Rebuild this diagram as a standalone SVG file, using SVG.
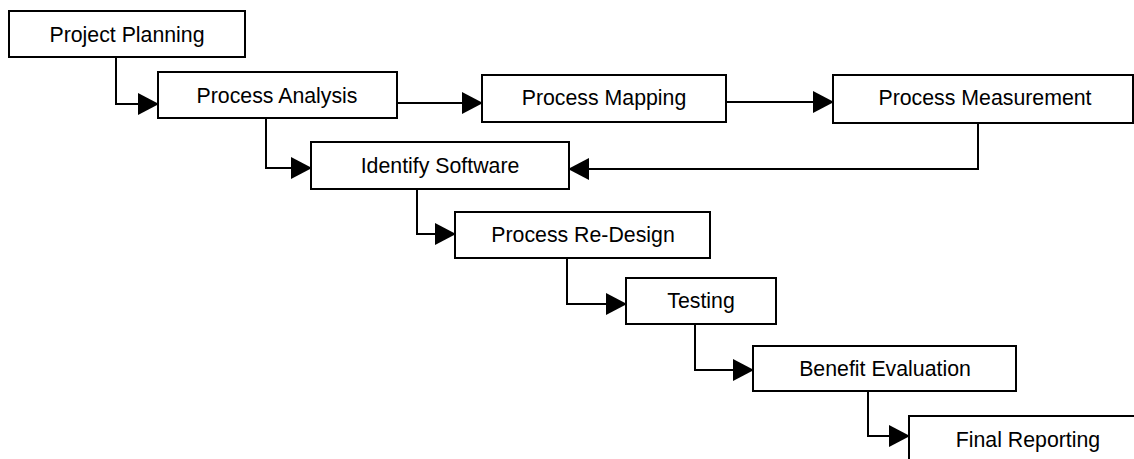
<svg xmlns="http://www.w3.org/2000/svg" width="1134" height="459" viewBox="0 0 1134 459">
<style>
.box{fill:#fff;stroke:#000;stroke-width:2}
.lbl{font-family:"Liberation Sans",Arial,sans-serif;font-size:21.3px;fill:#000;text-anchor:middle}
.con{fill:none;stroke:#000;stroke-width:2}
</style>
<defs>
<marker id="ah" markerUnits="userSpaceOnUse" markerWidth="21" markerHeight="22" refX="20" refY="11" orient="auto">
<path d="M0,0 L21,11 L0,22 Z" fill="#000"/>
</marker>
</defs>
<rect width="1134" height="459" fill="#fff"/>
<g id="connectors">
<path class="con" d="M116,57 V104 H158" marker-end="url(#ah)"/>
<path class="con" d="M397,103 H482" marker-end="url(#ah)"/>
<path class="con" d="M726,102 H833" marker-end="url(#ah)"/>
<path class="con" d="M266,118 V168 H311" marker-end="url(#ah)"/>
<path class="con" d="M978,123 V169 H569" marker-end="url(#ah)"/>
<path class="con" d="M417,189 V234 H455" marker-end="url(#ah)"/>
<path class="con" d="M567,258 V304 H626" marker-end="url(#ah)"/>
<path class="con" d="M695,324 V370 H753" marker-end="url(#ah)"/>
<path class="con" d="M868,391 V436 H909" marker-end="url(#ah)"/>
</g>
<g id="project-planning"><rect class="box" x="9" y="11" width="236" height="46"/><text class="lbl" x="127" y="42">Project Planning</text></g>
<g id="process-analysis"><rect class="box" x="158" y="72" width="239" height="46"/><text class="lbl" x="277" y="103">Process Analysis</text></g>
<g id="process-mapping"><rect class="box" x="482" y="75" width="244" height="47"/><text class="lbl" x="604" y="105">Process Mapping</text></g>
<g id="process-measurement"><rect class="box" x="833" y="75" width="300" height="48"/><text class="lbl" x="985" y="105">Process Measurement</text></g>
<g id="identify-software"><rect class="box" x="311" y="142" width="258" height="47"/><text class="lbl" x="440" y="173">Identify Software</text></g>
<g id="process-redesign"><rect class="box" x="455" y="212" width="255" height="46"/><text class="lbl" x="583" y="242">Process Re-Design</text></g>
<g id="testing"><rect class="box" x="626" y="278" width="150" height="46"/><text class="lbl" x="701" y="308">Testing</text></g>
<g id="benefit-evaluation"><rect class="box" x="753" y="346" width="263" height="45"/><text class="lbl" x="885" y="376">Benefit Evaluation</text></g>
<g id="final-reporting"><rect class="box" x="909" y="416" width="240" height="60"/><text class="lbl" x="1028" y="447">Final Reporting</text></g>
</svg>
